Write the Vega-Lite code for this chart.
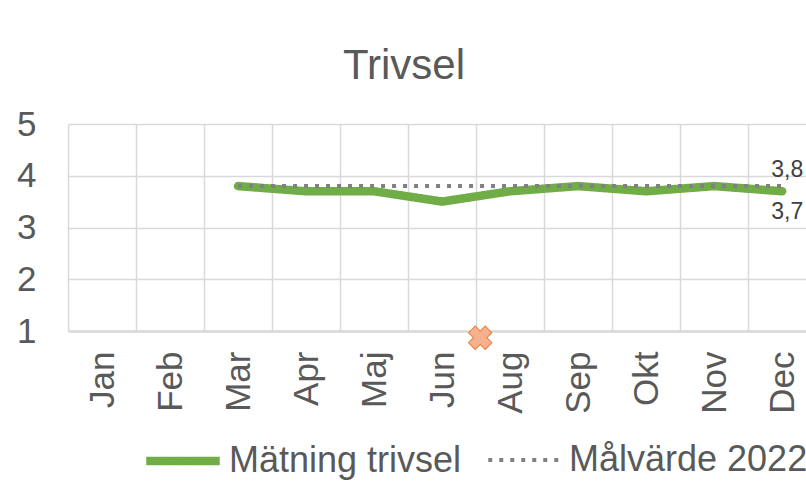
{
  "$schema": "https://vega.github.io/schema/vega-lite/v6.json",
  "width": 738,
  "height": 207,
  "autosize": {"type": "none"},
  "padding": {"left": 68, "top": 124, "right": 0, "bottom": 150},
  "background": "white",
  "config": {
    "view": {"stroke": null},
    "font": "Liberation Sans",
    "locale": {"number": {"decimal": ",", "thousands": " ", "grouping": [3], "currency": ["", " kr"]}}
  },
  "title": {
    "text": "Trivsel",
    "fontSize": 42,
    "font": "Liberation Sans",
    "fontWeight": "normal",
    "color": "#595959",
    "anchor": "middle",
    "dx": -33,
    "dy": 58,
    "baseline": "alphabetic",
    "offset": 44
  },
  "datasets": {
    "main": [
      {"month": "Mar", "idx": 3, "series": "Mätning trivsel", "value": 3.8},
      {"month": "Apr", "idx": 4, "series": "Mätning trivsel", "value": 3.7},
      {"month": "Maj", "idx": 5, "series": "Mätning trivsel", "value": 3.7},
      {"month": "Jun", "idx": 6, "series": "Mätning trivsel", "value": 3.5},
      {"month": "Aug", "idx": 7, "series": "Mätning trivsel", "value": 3.7},
      {"month": "Sep", "idx": 8, "series": "Mätning trivsel", "value": 3.8},
      {"month": "Okt", "idx": 9, "series": "Mätning trivsel", "value": 3.7},
      {"month": "Nov", "idx": 10, "series": "Mätning trivsel", "value": 3.8},
      {"month": "Dec", "idx": 11, "series": "Mätning trivsel", "value": 3.7},
      {"month": "Mar", "idx": 3, "series": "Målvärde 2022", "value": 3.8},
      {"month": "Apr", "idx": 4, "series": "Målvärde 2022", "value": 3.8},
      {"month": "Maj", "idx": 5, "series": "Målvärde 2022", "value": 3.8},
      {"month": "Jun", "idx": 6, "series": "Målvärde 2022", "value": 3.8},
      {"month": "Aug", "idx": 7, "series": "Målvärde 2022", "value": 3.8},
      {"month": "Sep", "idx": 8, "series": "Målvärde 2022", "value": 3.8},
      {"month": "Okt", "idx": 9, "series": "Målvärde 2022", "value": 3.8},
      {"month": "Nov", "idx": 10, "series": "Målvärde 2022", "value": 3.8},
      {"month": "Dec", "idx": 11, "series": "Målvärde 2022", "value": 3.8}
    ],
    "marker": [
      {"idx": 6.56, "value": 0.87}
    ]
  },
  "layer": [
    {
      "data": {"name": "main"},
      "transform": [{"filter": "datum.series == 'Mätning trivsel'"}],
      "mark": {"type": "line", "strokeCap": "round", "strokeJoin": "round"},
      "encoding": {
        "x": {
          "field": "idx", "type": "quantitative",
          "scale": {"domain": [0.5, 11.35], "nice": false, "zero": false},
          "axis": {
            "orient": "bottom", "title": null, "values": [1, 2, 3, 4, 5, 6, 7, 8, 9, 10, 11],
            "labelExpr": "['', 'Jan', 'Feb', 'Mar', 'Apr', 'Maj', 'Jun', 'Aug', 'Sep', 'Okt', 'Nov', 'Dec'][datum.value]",
            "labelAngle": -90, "labelFontSize": 35, "labelFont": "Liberation Sans", "labelColor": "#595959",
            "labelPadding": 20, "ticks": false, "tickSize": 0, "grid": false,
            "domain": true, "domainColor": "#D9D9D9", "domainWidth": 2.5, "labelOverlap": false, "labelBound": false, "labelFlush": false
          }
        },
        "y": {
          "field": "value", "type": "quantitative",
          "scale": {"domain": [1, 5], "nice": false, "zero": false},
          "axis": {
            "title": null, "values": [1, 2, 3, 4, 5], "format": "d", "labelFontSize": 35, "labelFont": "Liberation Sans",
            "labelColor": "#595959", "labelPadding": 32, "ticks": false, "tickSize": 0, "domain": false,
            "grid": true, "gridColor": "#D9D9D9", "gridWidth": 1.5, "labelOverlap": false, "labelFlush": false, "labelBound": false
          }
        },
        "color": {
          "field": "series", "type": "nominal",
          "scale": {"domain": ["Mätning trivsel", "Målvärde 2022"], "range": ["#70AD47", "#808080"]},
          "legend": {
            "title": null, "orient": "none", "legendX": 74, "legendY": 296, "direction": "horizontal",
            "symbolType": "stroke", "symbolSize": 5400, "labelFontSize": 36, "labelFont": "Liberation Sans",
            "labelColor": "#595959", "labelLimit": 400, "labelOffset": 5, "columnPadding": 18
          }
        },
        "strokeDash": {
          "field": "series", "type": "nominal",
          "scale": {"domain": ["Mätning trivsel", "Målvärde 2022"], "range": [[1, 0], [4, 7]]},
          "legend": {
            "title": null, "orient": "none", "legendX": 74, "legendY": 296, "direction": "horizontal",
            "symbolType": "stroke", "symbolSize": 5400, "labelFontSize": 36, "labelFont": "Liberation Sans",
            "labelColor": "#595959", "labelLimit": 400, "labelOffset": 5, "columnPadding": 18
          }
        },
        "strokeWidth": {
          "field": "series", "type": "nominal",
          "scale": {"domain": ["Mätning trivsel", "Målvärde 2022"], "range": [8.5, 4]},
          "legend": {
            "title": null, "orient": "none", "legendX": 74, "legendY": 296, "direction": "horizontal",
            "symbolType": "stroke", "symbolSize": 5400, "labelFontSize": 36, "labelFont": "Liberation Sans",
            "labelColor": "#595959", "labelLimit": 400, "labelOffset": 5, "columnPadding": 18
          }
        }
      }
    },
    {
      "data": {"name": "main"},
      "transform": [{"filter": "datum.series == 'Målvärde 2022'"}],
      "mark": {"type": "line", "strokeCap": "butt"},
      "encoding": {
        "x": {
          "field": "idx", "type": "quantitative",
          "scale": {"domain": [0.5, 11.35], "nice": false, "zero": false},
          "axis": {
            "orient": "bottom", "title": null, "values": [0.5, 1.5, 2.5, 3.5, 4.5, 5.5, 6.5, 7.5, 8.5, 9.5, 10.5],
            "labels": false, "ticks": false, "tickSize": 0, "domain": false,
            "grid": true, "gridColor": "#D9D9D9", "gridWidth": 1.5
          }
        },
        "y": {"field": "value", "type": "quantitative"},
        "color": {"field": "series", "type": "nominal", "scale": {"domain": ["Mätning trivsel", "Målvärde 2022"], "range": ["#70AD47", "#808080"]}},
        "strokeDash": {"field": "series", "type": "nominal", "scale": {"domain": ["Mätning trivsel", "Målvärde 2022"], "range": [[1, 0], [4, 7]]}},
        "strokeWidth": {"field": "series", "type": "nominal", "scale": {"domain": ["Mätning trivsel", "Målvärde 2022"], "range": [8.5, 4]}}
      }
    },
    {
      "data": {"name": "marker"},
      "mark": {"type": "point", "shape": "cross", "angle": 45, "filled": true, "fill": "#F5B08F", "stroke": "#ED7D31", "strokeWidth": 1, "size": 560, "opacity": 1},
      "encoding": {
        "x": {"field": "idx", "type": "quantitative", "axis": null},
        "y": {"field": "value", "type": "quantitative"}
      }
    },
    {
      "data": {"name": "main"},
      "transform": [{"filter": "datum.idx == 11 && datum.series == 'Målvärde 2022'"}],
      "mark": {"type": "text", "fontSize": 23, "font": "Liberation Sans", "color": "#404040", "dx": 5, "dy": -9, "baseline": "alphabetic", "align": "center"},
      "encoding": {
        "x": {"field": "idx", "type": "quantitative", "axis": null},
        "y": {"field": "value", "type": "quantitative"},
        "text": {"field": "value", "type": "quantitative", "format": ".1f"}
      }
    },
    {
      "data": {"name": "main"},
      "transform": [{"filter": "datum.idx == 11 && datum.series == 'Mätning trivsel'"}],
      "mark": {"type": "text", "fontSize": 23, "font": "Liberation Sans", "color": "#404040", "dx": 5, "dy": 28, "baseline": "alphabetic", "align": "center"},
      "encoding": {
        "x": {"field": "idx", "type": "quantitative", "axis": null},
        "y": {"field": "value", "type": "quantitative"},
        "text": {"field": "value", "type": "quantitative", "format": ".1f"}
      }
    }
  ],
  "resolve": {"axis": {"x": "independent"}}
}
